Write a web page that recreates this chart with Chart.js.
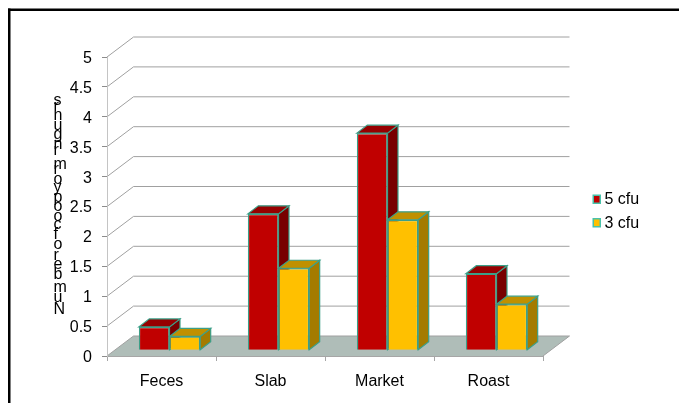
<!DOCTYPE html>
<html>
<head>
<meta charset="utf-8">
<style>
  html, body { margin: 0; padding: 0; background: #fff; }
  canvas { display: block; }
</style>
<script src="https://cdn.jsdelivr.net/npm/chart.js@4"></script>
</head>
<body>
<canvas id="chart" width="679" height="403"></canvas>
<script>
const categories = ["Feces", "Slab", "Market", "Roast"];
const cfu5Label = "5 cfu";
const cfu3Label = "3 cfu";
const cfu5Values = [0.39, 2.28, 3.63, 1.28];
const cfu3Values = [0.23, 1.37, 2.18, 0.77];
const yAxisTitle = "Number of coopyormrngunrs";

const FONT = '16px "Liberation Sans", Arial, sans-serif';
const EDGE = "#3c9f88";
const WALL = { dx: 26.5, dy: 20 };       // depth of the back wall
const BAR = { dx: 10.5, dy: 8 };         // depth of each block
const BAR_SHIFT = { x: 8, y: -5.8 };     // blocks sit inside the floor

const shades = [
  { top: "#960000", side: "#780000" },
  { top: "#c09000", side: "#a47b00" }
];

function parallelogram(ctx, pts, fill) {
  ctx.beginPath();
  pts.forEach((p, i) => i ? ctx.lineTo(p[0], p[1]) : ctx.moveTo(p[0], p[1]));
  ctx.closePath();
  ctx.fillStyle = fill;
  ctx.fill();
  ctx.strokeStyle = EDGE;
  ctx.lineWidth = 1.2;
  ctx.stroke();
}

const box3d = {
  id: "box3d",
  beforeDraw(chart) {
    const { ctx, chartArea: a, scales: { y } } = chart;
    ctx.save();
    // page frame
    ctx.fillStyle = "#000";
    ctx.fillRect(8, 8.5, 671, 2.5);
    ctx.fillRect(8, 8.5, 2.5, 395);

    // floor
    ctx.beginPath();
    ctx.moveTo(a.left, a.bottom);
    ctx.lineTo(a.left + WALL.dx, a.bottom - WALL.dy);
    ctx.lineTo(a.right + WALL.dx, a.bottom - WALL.dy);
    ctx.lineTo(a.right, a.bottom);
    ctx.closePath();
    ctx.fillStyle = "#afbdb8";
    ctx.fill();

    // wall grid, one line for each tick of the value scale
    ctx.strokeStyle = "#a0a0a0";
    ctx.lineWidth = 1;
    y.ticks.forEach(t => {
      const py = y.getPixelForValue(t.value);
      ctx.beginPath();
      ctx.moveTo(a.left, py);
      ctx.lineTo(a.left + WALL.dx, py - WALL.dy);
      ctx.lineTo(a.right + WALL.dx, py - WALL.dy);
      ctx.stroke();
    });
    ctx.beginPath();
    ctx.moveTo(a.right, a.bottom);
    ctx.lineTo(a.right + WALL.dx, a.bottom - WALL.dy);
    ctx.stroke();

    // axis title: upright glyphs stacked from the bottom upwards
    ctx.font = FONT;
    ctx.fillStyle = "#000";
    ctx.textAlign = "left";
    ctx.textBaseline = "alphabetic";
    let baseline = 314;
    for (const ch of yAxisTitle) {
      ctx.fillText(ch, 53.5, baseline);
      baseline -= ctx.measureText(ch).width + 0.55;
    }

    // legend
    ctx.textBaseline = "middle";
    chart.data.datasets.forEach((ds, i) => {
      const top = 194.5 + i * 23.5;
      ctx.fillStyle = "#49c2aa";
      ctx.fillRect(592.5, top, 8.5, 9.5);
      ctx.fillStyle = ds.backgroundColor;
      ctx.fillRect(594, top + 1.5, 5.5, 6.5);
      ctx.fillStyle = "#000";
      ctx.fillText(ds.label, 604.5, top + 5.5);
    });
    ctx.restore();
  },
  beforeDatasetsDraw(chart) {
    const { ctx } = chart;
    ctx.save();
    ctx.translate(BAR_SHIFT.x, BAR_SHIFT.y);
    // top and side faces first, so the front faces land over them
    chart.data.labels.forEach((_, c) => {
      chart.data.datasets.forEach((ds, d) => {
        const bar = chart.getDatasetMeta(d).data[c];
        const l = bar.x - bar.width / 2, r = bar.x + bar.width / 2;
        const t = bar.y, b = bar.base;
        parallelogram(ctx, [[r, t], [r + BAR.dx, t - BAR.dy], [r + BAR.dx, b - BAR.dy], [r, b]], shades[d].side);
        parallelogram(ctx, [[l, t], [l + BAR.dx, t - BAR.dy], [r + BAR.dx, t - BAR.dy], [r, t]], shades[d].top);
      });
    });
  },
  afterDatasetsDraw(chart) {
    chart.ctx.restore();
  }
};

new Chart(document.getElementById("chart"), {
  type: "bar",
  plugins: [box3d],
  data: {
    labels: categories,
    datasets: [
      { label: cfu5Label, data: cfu5Values, backgroundColor: "#c00000", borderColor: EDGE, borderWidth: 1.3 },
      { label: cfu3Label, data: cfu3Values, backgroundColor: "#ffc000", borderColor: EDGE, borderWidth: 1.3 }
    ]
  },
  options: {
    responsive: false,
    animation: false,
    layout: { padding: { left: 0, top: 57, right: 136, bottom: 0 } },
    plugins: { legend: { display: false }, tooltip: { enabled: false } },
    datasets: { bar: { categoryPercentage: 0.563, barPercentage: 1 } },
    scales: {
      x: {
        afterFit(s) { s.height = 47; },
        grid: { offset: true, drawOnChartArea: false, color: "#a6a6a6", tickLength: 5 },
        border: { color: "#a6a6a6" },
        ticks: { color: "#000", font: { family: '"Liberation Sans"', size: 16 }, padding: 11, maxRotation: 0 }
      },
      y: {
        min: 0,
        max: 5,
        afterFit(s) { s.width = 107; },
        grid: { drawOnChartArea: false, color: "#8c8c8c", tickLength: 5 },
        border: { color: "#c4c4c4" },
        ticks: {
          stepSize: 0.5,
          color: "#000",
          font: { family: '"Liberation Sans"', size: 16 },
          padding: 10,
          labelOffset: 1.5,
          callback: v => String(v)
        }
      }
    }
  }
});
</script>
</body>
</html>
